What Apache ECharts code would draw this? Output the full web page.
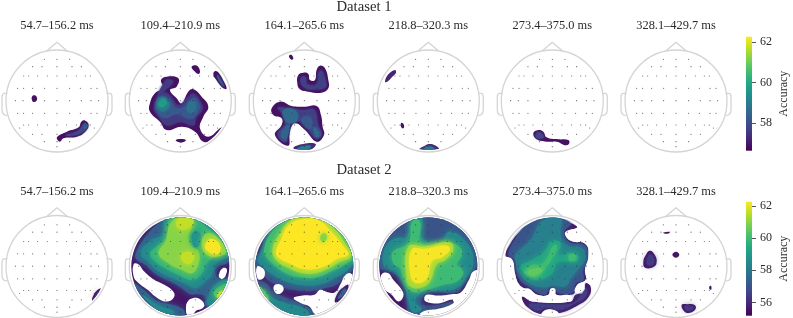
<!DOCTYPE html>
<html><head><meta charset="utf-8">
<style>html,body{margin:0;padding:0;background:#fff}#c{width:793px;height:318px}</style>
<script src="https://cdn.jsdelivr.net/npm/echarts@6/dist/echarts.min.js"></script>
</head><body><div id="c"></div>
<script>
const windows = ['54.7–156.2 ms','109.4–210.9 ms','164.1–265.6 ms','218.8–320.3 ms','273.4–375.0 ms','328.1–429.7 ms'];
const datasets = ['Dataset 1','Dataset 2'];
const rangeTop = [56.64, 62.25], rangeBottom = [55.17, 62.27];
const ticksTop = [58,60,62], ticksBottom = [56,58,60,62];
const viridis = ['#440154','#482475','#414487','#355f8d','#2a788e','#21918c','#22a884','#44bf70','#7ad151','#bddf26','#fde725'];

// Sensor positions, head space: centre (170,185), radius 153
const sensors = [[132,60],[170,60],[208,60],[97,82],[125,82],[170,82],[215,82],[243,82],
[70,110],[85,110],[112,110],[141,110],[170,110],[199,110],[228,110],[255,110],[270,110],
[52,147],[70,147],[97,147],[133,147],[170,147],[208,147],[240,147],[272,147],[290,147],
[45,184],[68,184],[97,184],[133,184],[170,184],[208,184],[243,184],[272,184],[295,184],
[52,222],[70,222],[97,222],[133,222],[170,222],[208,222],[240,222],[272,222],[290,222],
[70,257],[85,257],[112,257],[141,257],[170,257],[199,257],[228,257],[255,257],[270,257],[58,266],[282,266],
[97,285],[125,285],[170,285],[215,285],[243,285],[132,307],[170,307],[208,307],[170,322]];
const headCircle = [170,185,153];
const nose = [[140,34],[170,9],[200,34]];
const earL = [[21,162],[11,162],[5,175],[5,212],[11,226],[21,228]];
const earR = [[319,162],[329,162],[335,175],[335,212],[329,226],[319,228]];

// Contour bands: [accuracy, x,y, x,y, ...]. Accuracy 0 = below threshold (blank).
const t1 = [
 [56.9, 95,172,103,168,110,175,108,185,100,188,95,182],
 [56.9, 170,294,200,277,235,264,243,247,255,244,265,257,255,277,230,292,190,297,178,307],
 [57.8, 195,288,230,276,246,260,254,252,262,260,245,280,215,289],
 [58.3, 250,256,258,254,260,262,252,268]
];
const t2 = [
 [56.9, 112,122,129,112,164,117,159,142,139,152,159,177,174,192,194,157,209,150,234,172,254,202,239,232,229,267,254,292,294,264,299,267,264,302,239,307,214,277,175,262,129,272,109,247,79,217,79,192,94,162,119,147],
 [57.6, 125,124,148,124,142,138,125,152,100,176,112,160,135,165,165,198,192,174,210,163,232,190,236,212,217,235,210,258,170,248,130,258,104,230,92,205],
 [58.2, 96,190,112,170,135,178,160,207,190,197,210,175,228,197,222,220,200,238,160,224,122,236,98,213],
 [58.9, 99,190,114,174,135,187,136,205,112,216],
 [58.7, 195,187,216,190,212,216,192,218],
 [59.7, 105,190,120,178,130,190,120,202,108,202],
 [56.9, 204,82,220,79,229,95,225,104,212,95],
 [56.9, 275,95,285,100,300,125,309,148,298,146,280,125,269,105],
 [58.2, 280,106,290,118,302,142,288,128],
 [56.9, 156,303,172,299,187,303,172,310]
];
const t3 = [
 [56.9, 124,50,132,47,137,58,130,60],
 [56.9, 152,107,167,100,182,104,187,122,202,122,207,92,217,79,232,87,242,122,242,147,222,160,182,157,157,150,149,132],
 [57.7, 158,125,166,111,175,115,178,134,207,134,213,98,223,95,234,125,234,144,205,150,172,146],
 [56.9, 72,207,97,187,132,200,172,202,207,200,220,227,225,262,229,287,207,307,172,272,142,252,127,277,122,319,82,287,102,257,102,237,77,227],
 [57.7, 90,205,130,208,170,212,200,212,212,258,222,286,205,298,175,264,148,244,122,262,116,308,90,286,112,252,108,226],
 [58.6, 108,212,142,212,150,242,125,252,108,235],
 [58.4, 125,255,115,300,98,286],
 [58.6, 198,262,218,285,205,292],
 [58.2, 162,238,187,232,192,266,175,264],
 [57.2, 137,325,167,314,204,314,192,330,167,335,147,332],
 [59, 150,328,170,320,190,320,175,332]
];
const t4 = [
 [57.2, 40,127,50,105,70,92,73,100,62,112,47,127],
 [56.9, 90,250,96,255,97,265,92,267,87,258],
 [57.2, 142,331,160,319,172,314,190,318,203,331,185,336,160,336],
 [59, 155,331,172,321,190,331,172,336]
];
const t5 = [
 [56.9, 113,282,128,272,143,277,153,294,188,300,218,302,221,312,211,318,183,307,153,307,123,300],
 [57.8, 120,285,130,278,145,292,135,298,122,295]
];
const t6 = [
 [56.9, 296,264,299,268,291,279,288,276]
];
const b1 = [
 [55.6, 303,251,298,268,283,287,275,288,280,270,292,255],
 [56.6, 298,258,294,268,284,282,286,270]
];
const b2 = [
 [55.6, -30,-30,370,-30,370,370,-30,370],
 [57.3, 35,150,70,90,112,50,142,30,192,25,250,40,300,90,325,150,310,175,280,185,278,215,305,225,325,235,310,280,270,310,245,300,245,275,225,268,200,268,175,250,150,235,100,210,65,180,40,165],
 [57.3, 30,235,60,255,100,288,145,300,180,315,180,335,120,330,60,290,35,260],
 [58.5, 50,145,85,105,115,90,125,40,165,25,225,30,270,60,310,115,320,150,295,165,275,180,262,215,250,225,240,235,215,250,190,240,150,222,105,200,75,172],
 [58.5, 57,270,102,300,152,320,142,330,102,315,67,285],
 [59.8, 80,145,100,125,130,100,140,40,205,30,240,60,285,100,315,145,275,155,250,175,235,205,205,225,165,210,125,190,95,170],
 [61, 105,145,125,110,145,50,195,35,205,65,195,95,205,125,225,140,225,175,205,205,175,195,135,175],
 [58.8, 208,83,226,83,232,110,217,128,205,110],
 [61, 235,105,260,85,305,130,300,150,250,150],
 [62.2, 245,120,264,102,290,125,280,148,250,138],
 [61.6, 157,52,177,38,210,48,192,72,167,72],
 [61.6, 172,150,197,140,212,155,197,178,177,170],
 [58.5, 255,275,277,238,325,225,315,275,272,305,252,298],
 [60, 270,268,292,242,320,240,305,285],
 [61.6, 280,272,299,256,310,268,292,286],
 [0, 30,178,44,178,62,200,92,225,122,240,147,258,152,275,132,290,102,280,72,255,42,232,30,215],
 [0, 187,310,192,290,207,280,227,282,242,300,234,312,217,318,207,332,192,332],
 [0, 287,205,297,190,309,192,307,210,297,222,287,218]
];
const b3 = [
 [55.6, -30,-30,370,-30,370,370,-30,370],
 [57, 20,170,40,135,60,80,105,40,150,25,190,25,260,50,310,100,330,155,315,195,290,215,270,238,225,252,200,258,160,258,105,248,65,228,40,200],
 [57, 30,230,55,235,80,262,115,278,145,290,200,325,160,345,90,320,45,280],
 [58.5, 30,165,55,120,70,75,110,45,150,30,190,28,255,52,300,100,325,155,305,190,265,218,220,238,170,242,115,230,75,210,45,185],
 [58.5, 50,250,70,275,115,295,155,305,185,325,160,340,110,320,65,290],
 [60, 50,130,70,85,115,48,160,32,205,35,265,65,300,110,318,155,290,180,250,200,205,218,165,218,120,208,85,185,55,155],
 [61.2, 75,130,95,90,125,50,170,35,215,38,260,72,295,120,310,155,275,172,240,192,205,205,165,205,120,188,85,165],
 [62.27, 85,145,100,105,125,60,175,42,215,48,250,80,290,128,302,150,270,162,240,180,205,192,165,192,125,175,95,160],
 [61, 218,95,232,85,238,100,225,112],
 [60.5, 35,245,50,258,65,290,45,285],
 [0, 28,185,45,190,52,205,45,222,30,222],
 [0, 78,245,95,238,108,250,100,265,85,265],
 [0, 138,280,165,272,200,270,218,255,240,262,262,262,280,235,292,212,308,205,322,225,300,290,260,320,205,328,185,305,160,295],
 [55.6, 262,292,270,265,290,245,302,240,298,262,280,285],
 [57.4, 270,282,278,265,292,250,296,258,280,278]
];
const b4 = [
 [55.6, -30,-30,370,-30,370,370,-30,370],
 [57, 25,190,20,150,45,95,100,45,150,25,210,30,270,65,315,130,320,175,300,205,275,240,255,262,170,262,150,285,150,300,200,300,240,290,240,300,190,320,150,330,115,330,105,285,100,252,75,212,50,198],
 [58.5, 35,180,40,130,70,100,105,95,120,40,150,40,152,100,205,110,235,80,290,120,305,175,285,215,255,250,200,258,160,258,130,290,150,312,125,322,108,280,100,245,75,205,50,192],
 [60, 65,175,65,140,110,115,122,50,145,50,150,115,220,115,255,120,272,145,255,180,268,190,275,205,255,230,215,240,165,255,120,260,95,220,85,190],
 [61.2, 105,228,110,125,160,125,235,112,245,135,222,165,195,180,175,230,150,248,120,248],
 [62.2, 118,218,120,135,160,132,225,122,235,135,210,158,182,168,165,222,138,235],
 [0, 30,208,50,205,65,225,90,255,95,275,80,290,60,270,40,255,30,235],
 [0, 158,285,165,270,200,272,240,268,268,262,292,225,305,200,330,200,310,270,260,325,200,340,145,330,160,318,200,312,245,295,240,285,205,295,170,293]
];
const b5 = [
 [55.6, 30,155,45,115,80,75,120,50,170,38,215,50,245,68,215,78,208,88,225,108,270,118,278,155,268,195,270,225,245,240,238,262,225,270,182,270,178,252,165,252,158,270,125,270,100,252,85,250,68,235,58,205,50,165],
 [55.7, 80,275,110,290,225,290,240,270,265,262,270,235,285,245,280,275,250,300,190,325,175,315,150,315,135,330,100,310,85,295],
 [56.5, 100,298,150,298,225,297,250,278,272,250,270,275,240,295,190,315,150,308,125,318],
 [57, 38,150,60,100,95,60,165,38,225,55,205,82,220,112,268,122,275,160,263,195,263,228,240,235,232,262,190,265,175,248,160,248,152,268,130,265,100,245,75,228,62,195,58,165],
 [58.2, 60,150,105,105,140,48,195,42,195,88,212,120,260,130,268,165,250,190,225,222,210,245,170,242,150,248,105,238,72,205,60,170],
 [59.3, 75,185,110,165,150,135,165,110,190,110,195,125,185,150,225,145,245,150,245,170,225,170,185,175,170,205,130,225,100,215],
 [60, 85,200,110,180,135,180,150,165,175,120,185,125,170,160,150,190,125,215,100,215],
 [60.5, 95,200,120,190,140,195,125,210,105,212],
 [60, 220,150,240,150,240,165,222,168],
 [0, 245,68,215,78,208,88,225,108,270,118,278,155,268,195,270,225,245,240,238,262,262,258,268,232,285,240,335,240,335,100,280,35],
 [0, 5,155,30,155,50,165,58,205,68,235,85,250,100,252,125,270,158,270,165,252,178,252,182,270,225,272,225,290,110,290,80,275,75,305,20,285],
 [0, 150,316,175,316,190,326,190,348,135,348,135,330]
];
const b6 = [
 [55.6, 92,138,107,151,112,171,104,186,77,189,72,171,79,151],
 [56.4, 92,148,103,158,104,175,96,182,84,180,82,165],
 [55.6, 159,150,170,141,180,150,170,159],
 [55.6, 132,83,152,81,148,86,134,86],
 [55.6, 270,245,275,243,276,254,271,254],
 [55.6, 187,300,205,298,225,300,229,312,212,324,195,320],
 [56.4, 195,305,220,304,222,312,205,318]
];
const mapsTop = [t1,t2,t3,t4,t5,t6], mapsBottom = [b1,b2,b3,b4,b5,b6];

const headCx = [57,180.3,304.3,428.3,552.3,676], rowCy = [101,266.5];
const xSpan = [0,340], ySpan = [3,339];
const clipR = 147;
const softAbove = [57.2,55.9], softBlur = [3,6];

const grids=[], xAxes=[], yAxes=[], series=[], titles=[];
const font='"Liberation Serif","Times New Roman",serif', ink='#2b2b2b', headColor='#d4d4d4';
const idxRow=[[],[]];
[mapsTop,mapsBottom].forEach((maps,r)=>{
  maps.forEach((bands,c)=>{
    const g=grids.length;
    grids.push({left:headCx[c]-(170-xSpan[0])/3,top:rowCy[r]-(185-ySpan[0])/3,width:(xSpan[1]-xSpan[0])/3,height:(ySpan[1]-ySpan[0])/3});
    xAxes.push({type:'value',gridIndex:g,min:xSpan[0],max:xSpan[1],show:false});
    yAxes.push({type:'value',gridIndex:g,min:ySpan[0],max:ySpan[1],inverse:true,show:false});
    idxRow[r].push(series.length);
    series.push({type:'custom',coordinateSystem:'cartesian2d',xAxisIndex:g,yAxisIndex:g,clip:false,silent:true,z:2,
      data:bands.map((b,i)=>[b[0],i]),
      encode:{x:-1,y:-1},
      renderItem(p,api){
        const b=bands[p.dataIndex], pts=[];
        for(let i=1;i<b.length;i+=2) pts.push(api.coord([b[i],b[i+1]]));
        const ctr=api.coord([headCircle[0],headCircle[1]]), rr=clipR/3;
        const col=b[0]>0?api.visual('color'):'#ffffff', soft=b[0]>softAbove[r];
        return {type:'polygon',shape:{points:pts,smooth:0.45},
          style:{fill:col,shadowColor:soft?col:'transparent',shadowBlur:soft?softBlur[r]:0},
          clipPath:{type:'circle',shape:{cx:ctr[0],cy:ctr[1],r:rr}}};
      }});
    series.push({type:'custom',coordinateSystem:'cartesian2d',xAxisIndex:g,yAxisIndex:g,clip:false,silent:true,z:3,
      data:[headCircle],
      renderItem(p,api){
        const ctr=api.coord([api.value(0),api.value(1)]);
        const rr=api.size([api.value(2),0])[0];
        return {type:'circle',shape:{cx:ctr[0],cy:ctr[1],r:rr},style:{fill:'none',stroke:headColor,lineWidth:1.3}};
      }});
    [[nose,0],[earL,0.4],[earR,0.4]].forEach(([d,sm])=>series.push({type:'line',xAxisIndex:g,yAxisIndex:g,data:d,smooth:sm,showSymbol:false,silent:true,clip:false,z:3,
      lineStyle:{color:headColor,width:1.3}}));
    series.push({type:'scatter',xAxisIndex:g,yAxisIndex:g,data:sensors,symbolSize:1.1,silent:true,z:4,itemStyle:{color:'#333'}});
    titles.push({text:windows[c],left:headCx[c],top:[26,192][r],padding:0,textAlign:'center',textVerticalAlign:'middle',
      textStyle:{fontFamily:font,fontSize:12.4,fontWeight:'normal',color:ink}});
  });
});
datasets.forEach((t,r)=>titles.push({text:t,left:364,top:[7.5,170][r],padding:0,textAlign:'center',textVerticalAlign:'middle',
  textStyle:{fontFamily:font,fontSize:14.7,fontWeight:'normal',color:ink}}));

// Colour bars
const barTop=[36.7,201.7], barH=114, barX=746, barW=6;
[[rangeTop,ticksTop],[rangeBottom,ticksBottom]].forEach(([rg,tk],r)=>{
  const g=grids.length;
  grids.push({left:barX,top:barTop[r],width:barW,height:barH});
  xAxes.push({type:'value',gridIndex:g,show:false,min:0,max:1});
  yAxes.push({type:'value',gridIndex:g,position:'right',min:rg[0],max:rg[1],
    name:'Accuracy',nameLocation:'middle',nameRotate:90,nameGap:26,nameTextStyle:{fontFamily:font,fontSize:12,color:ink},
    axisLine:{show:false,onZero:false},splitLine:{show:false},
    axisTick:{show:true,length:4,customValues:tk,lineStyle:{color:ink,width:0.8}},
    axisLabel:{show:true,margin:8,customValues:tk,fontFamily:font,fontSize:12,color:ink,formatter:v=>String(v)}});
  series.push({type:'custom',coordinateSystem:'cartesian2d',xAxisIndex:g,yAxisIndex:g,clip:false,silent:true,
    data:[[0,rg[0],1,rg[1]]],encode:{x:[0,2],y:[1,3]},
    renderItem(p,api){
      const a=api.coord([api.value(0),api.value(1)]), b=api.coord([api.value(2),api.value(3)]);
      return {type:'rect',shape:{x:a[0],y:b[1],width:b[0]-a[0],height:a[1]-b[1]},
        style:{fill:new echarts.graphic.LinearGradient(0,1,0,0,viridis.map((c,i)=>({offset:i/(viridis.length-1),color:c})))}};
    }});
});
const vm=(rg,r)=>({type:'continuous',show:false,min:rg[0],max:rg[1],dimension:0,seriesIndex:idxRow[r],inRange:{color:viridis}});

const chart=echarts.init(document.getElementById('c'),null,{renderer:'canvas',width:793,height:318});
chart.setOption({animation:false,backgroundColor:'#fff',title:titles,grid:grids,xAxis:xAxes,yAxis:yAxes,
  visualMap:[vm(rangeTop,0),vm(rangeBottom,1)],series});
</script></body></html>
